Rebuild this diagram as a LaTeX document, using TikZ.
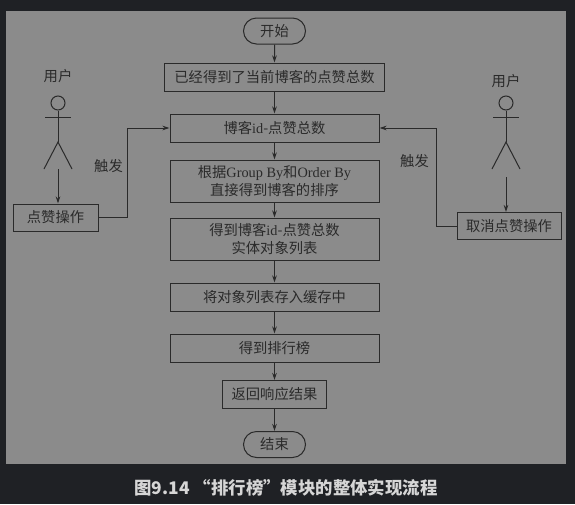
\documentclass[tikz,border=0pt]{standalone}
\usepackage{fontspec}
\setmainfont{Liberation Serif}
\newfontfamily\cjk{Noto Sans CJK SC}
\usetikzlibrary{shapes.misc, arrows.meta}
\definecolor{pagebg}{HTML}{1F2125}
\definecolor{panelbg}{HTML}{8B8B8B}
\definecolor{ink}{HTML}{2A2A2A}
\definecolor{capt}{HTML}{D6D6D6}
\newcommand{\lat}[1]{{\rmfamily #1}}
\tikzset{
    stepbox/.style={draw=ink, line width=1pt, text=ink, align=center, inner sep=0pt, font=\fontsize{14.3}{17.5}\selectfont\cjk},
    endbox/.style={stepbox, rounded rectangle, minimum width=62pt, minimum height=26pt},
    person/.style={draw=ink, line width=1pt},
    plain/.style={text=ink, inner sep=0pt, font=\fontsize{14.3}{17}\selectfont\cjk},
    flow/.style={draw=ink, line width=1pt, ->, >={Stealth[length=7pt, width=4.5pt]}}
}
\begin{document}
\begin{tikzpicture}[x=1pt, y=-1pt, node distance=47pt]
    \fill[pagebg] (0,0) rectangle (575,504);
    \fill[panelbg] (6,11) rectangle (566,464);

    \node[endbox] (start) at (274.5,31) {开始};
    \node[stepbox, minimum width=220pt, minimum height=28pt, below of=start, node distance=46pt] (known) {已经得到了当前博客的点赞总数};
    \node[stepbox, minimum width=209pt, minimum height=28pt, below of=known, node distance=51pt] (total) {博客\lat{id}-点赞总数};
    \node[stepbox, minimum width=209pt, minimum height=42pt, below of=total, node distance=53pt] (rank) {根据\lat{Group By}和\lat{Order By}\\直接得到博客的排序};
    \node[stepbox, minimum width=209pt, minimum height=42pt, below of=rank, node distance=58pt] (list) {得到博客\lat{id}-点赞总数\\实体对象列表};
    \node[stepbox, minimum width=209pt, minimum height=28pt, below of=list, node distance=58pt] (cache) {将对象列表存入缓存中};
    \node[stepbox, minimum width=209pt, minimum height=28pt, below of=cache, node distance=51pt] (board) {得到排行榜};
    \node[stepbox, minimum width=104pt, minimum height=28pt, below of=board, node distance=46.5pt] (result) {返回响应结果};
    \node[endbox, below of=result, node distance=50pt] (end) {结束};

    \draw[flow] (start) -- (known);
    \draw[flow] (known) -- (total);
    \draw[flow] (total) -- (rank);
    \draw[flow] (rank) -- (list);
    \draw[flow] (list) -- (cache);
    \draw[flow] (cache) -- (board);
    \draw[flow] (board) -- (result);
    \draw[flow] (result) -- (end);

    % left user
    \node[plain] (userl) at (58,76) {用户};
    \node[draw=ink, line width=1pt, circle, minimum size=14pt, inner sep=0pt] (headl) at (58,103) {};
    \coordinate (hipl) at (58,142);
    \coordinate (footl) at (58,169);
    \draw[person] (headl) -- (hipl);
    \draw[person] (45,117) -- (71,117);
    \draw[person] (44,169) -- (hipl) -- (72,169);
    \node[stepbox, minimum width=85pt, minimum height=27pt] (like) at (55.5,217.5) {点赞操作};
    \draw[flow] (footl) -- (footl |- like.north);
    \draw[flow] (like.east) -- (127.5,217.5) |- (total.west);
    \node[plain] (firel) at (108.5,166) {触发};

    % right user
    \node[plain] (userr) at (506,81) {用户};
    \node[draw=ink, line width=1pt, circle, minimum size=14pt, inner sep=0pt] (headr) at (506,103) {};
    \coordinate (hipr) at (506,142);
    \coordinate (footr) at (506,177);
    \draw[person] (headr) -- (hipr);
    \draw[person] (493,117) -- (519,117);
    \draw[person] (492,169) -- (hipr) -- (520,169);
    \node[stepbox, minimum width=104pt, minimum height=27pt] (unlike) at (509,226) {取消点赞操作};
    \draw[flow] (footr) -- (footr |- unlike.north);
    \draw[flow] (unlike.west) -- (436,226) |- (total.east);
    \node[plain] (firer) at (414.5,161.5) {触发};

    \node[text=capt, inner sep=0pt, font=\fontsize{17.4}{20}\selectfont\cjk\bfseries] (caption) at (286,488) {图9.14 “排行榜”模块的整体实现流程};
\end{tikzpicture}
\end{document}
